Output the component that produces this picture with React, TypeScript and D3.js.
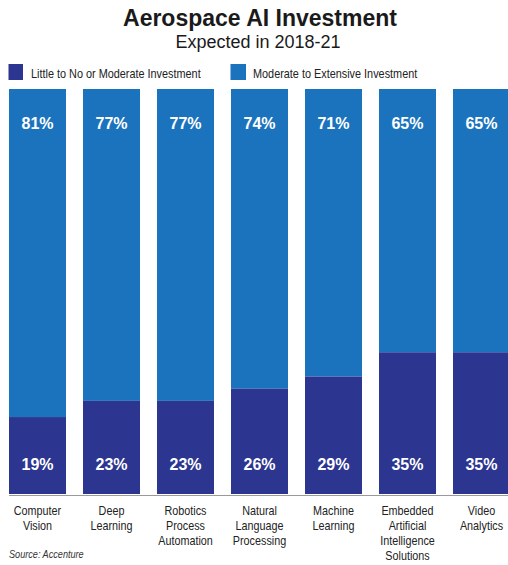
import React from "react";
import * as d3 from "d3";

const categories = [
  "Computer Vision",
  "Deep Learning",
  "Robotics Process Automation",
  "Natural Language Processing",
  "Machine Learning",
  "Embedded Artificial Intelligence Solutions",
  "Video Analytics",
];
const categoryLines = [
  ["Computer", "Vision"],
  ["Deep", "Learning"],
  ["Robotics", "Process", "Automation"],
  ["Natural", "Language", "Processing"],
  ["Machine", "Learning"],
  ["Embedded", "Artificial", "Intelligence", "Solutions"],
  ["Video", "Analytics"],
];
const lowValues = [19, 23, 23, 26, 29, 35, 35];
const highValues = [81, 77, 77, 74, 71, 65, 65];
const seriesNames = ["Little to No or Moderate Investment", "Moderate to Extensive Investment"];

const W = 508;
const H = 565;
const DARK = "#2c3590";
const LIGHT = "#1b73bd";
const SANS = "'Liberation Sans', Arial, Helvetica, sans-serif";

function Narrow(props: {
  x: number;
  y: number;
  size: number;
  sx?: number;
  anchor?: "start" | "middle" | "end";
  italic?: boolean;
  fill?: string;
  children: React.ReactNode;
}) {
  const sx = props.sx ?? 0.84;
  return (
    <text
      transform={`translate(${props.x},${props.y}) scale(${sx},1)`}
      textAnchor={props.anchor ?? "start"}
      fontFamily={SANS}
      fontSize={props.size}
      fontStyle={props.italic ? "italic" : "normal"}
      fill={props.fill ?? "#222"}
    >
      {props.children}
    </text>
  );
}

export default function App() {
  const x = d3.scaleBand<string>().domain(categories).range([9, 510]).paddingInner(0.2297).paddingOuter(0);
  const y = d3.scaleLinear().domain([0, 100]).range([494, 89]);
  const bw = x.bandwidth();

  return (
    <div style={{ position: "absolute", left: 0, top: 0 }}>
      <svg width={W} height={H} style={{ display: "block", background: "#fff" }}>
        <text x={260} y={26} textAnchor="middle" fontFamily={SANS} fontWeight="bold" fontSize={23} fill="#1a1a1a">
          Aerospace AI Investment
        </text>
        <text x={258} y={48} textAnchor="middle" fontFamily={SANS} fontSize={18} fill="#1a1a1a">
          Expected in 2018-21
        </text>

        {/* legend */}
        <rect x={8.5} y={64} width={14.5} height={16} fill={DARK} />
        <Narrow x={31} y={78} size={12.5} sx={0.87}>
          {seriesNames[0]}
        </Narrow>
        <rect x={230.5} y={64} width={15.5} height={16} fill={LIGHT} />
        <Narrow x={253} y={78} size={12.5} sx={0.87}>
          {seriesNames[1]}
        </Narrow>

        {categories.map((c, i) => {
          const x0 = x(c)!;
          const cx = x0 + bw / 2;
          return (
            <g key={c}>
              <rect x={x0} y={y(100)} width={bw} height={y(lowValues[i]) - y(100)} fill={LIGHT} />
              <rect x={x0} y={y(lowValues[i])} width={bw} height={y(0) - y(lowValues[i])} fill={DARK} />
              <text x={cx} y={129} textAnchor="middle" fontFamily={SANS} fontWeight="bold" fontSize={16} fill="#fff">
                {highValues[i]}%
              </text>
              <text x={cx} y={470} textAnchor="middle" fontFamily={SANS} fontWeight="bold" fontSize={16} fill="#fff">
                {lowValues[i]}%
              </text>
              {categoryLines[i].map((ln, j) => (
                <Narrow key={j} x={cx} y={514.5 + j * 15} size={13} sx={0.83} anchor="middle">
                  {ln}
                </Narrow>
              ))}
            </g>
          );
        })}
        <line x1={9} x2={W} y1={495.5} y2={495.5} stroke="#9a9a9a" strokeWidth={1} />

        <Narrow x={9} y={558} size={11} sx={0.83} italic fill="#333">
          Source: Accenture
        </Narrow>
      </svg>
    </div>
  );
}
